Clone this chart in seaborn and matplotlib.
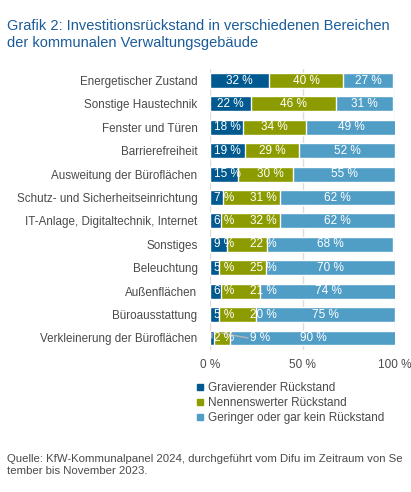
import numpy as np
import pandas as pd
import matplotlib
matplotlib.use("Agg")
import matplotlib.pyplot as plt
import seaborn as sns
from matplotlib.lines import Line2D

categories = [
    "Energetischer Zustand",
    "Sonstige Haustechnik",
    "Fenster und Türen",
    "Barrierefreiheit",
    "Ausweitung der Büroflächen",
    "Schutz- und Sicherheitseinrichtung",
    "IT-Anlage, Digitaltechnik, Internet",
    "Sonstiges",
    "Beleuchtung",
    "Außenflächen",
    "Büroausstattung",
    "Verkleinerung der Büroflächen",
]
gravierend = [32, 22, 18, 19, 15, 7, 6, 9, 5, 6, 5, 2]
nennenswert = [40, 46, 34, 29, 30, 31, 32, 22, 25, 21, 20, 9]
gering = [27, 31, 49, 52, 55, 62, 62, 68, 70, 74, 75, 90]
series_names = ["Gravierender Rückstand", "Nennenswerter Rückstand",
                "Geringer oder gar kein Rückstand"]
x_ticks = [0, 50, 100]
x_ticklabels = ["0 %", "50 %", "100 %"]
title = ("Grafik 2: Investitionsrückstand in verschiedenen Bereichen\n"
         "der kommunalen Verwaltungsgebäude")
source = ("Quelle: KfW-Kommunalpanel 2024, durchgeführt vom Difu im Zeitraum von Se\n"
          "tember bis November 2023.")

colors = ["#00598f", "#8c9c00", "#509dc6"]
text_grey = "#4a4a4a"

sns.set_theme(style="white")
plt.rcParams["font.family"] = ["Liberation Sans", "DejaVu Sans"]

W, H = 411, 492
fig = plt.figure(figsize=(W / 100, H / 100), dpi=100)
ax = fig.add_axes([210 / W, 1 - 349.7 / H, 185 / W, (349.7 - 68.8) / H])

df = pd.DataFrame({"Bereich": categories, "g": gravierend,
                   "n": nennenswert, "k": gering})
df["s1"] = df["g"]
df["s2"] = df["g"] + df["n"]
df["s3"] = df["s2"] + df["k"]

for col, c in [("s3", colors[2]), ("s2", colors[1]), ("s1", colors[0])]:
    sns.barplot(data=df, x=col, y="Bereich", color=c, orient="h", width=0.64,
                edgecolor="white", linewidth=1.0, saturation=1, ax=ax,
                errorbar=None, zorder=2)

ax.set_xlim(0, 100)
ax.set_ylim(len(categories) - 0.5, -0.5)
ax.set_xlabel("")
ax.set_ylabel("")
ax.set_xticks(x_ticks)
ax.set_xticklabels(x_ticklabels, fontsize=8.5, color=text_grey)
ax.tick_params(axis="y", labelsize=8.4, labelcolor=text_grey, left=False, pad=3)
ax.tick_params(axis="x", bottom=False, pad=0.5)
for s in ax.spines.values():
    s.set_visible(False)
ax.set_axisbelow(True)
for xv in x_ticks:
    ax.axvline(xv, color="#dcdcdc", lw=1, zorder=0)

# segment labels with simple overlap avoidance
fig.canvas.draw()
r = fig.canvas.get_renderer()
tr = ax.transData
inv = tr.inverted()
left_px = tr.transform((0, 0))[0]
pad = 8
for i in range(len(categories)):
    vals = [gravierend[i], nennenswert[i], gering[i]]
    starts = [0, gravierend[i], gravierend[i] + nennenswert[i]]
    prev_right = None
    for j in range(3):
        c_data = starts[j] + vals[j] / 2
        t = ax.text(c_data, i, f"{vals[j]} %", ha="center", va="center",
                    color="white", fontsize=8.5, zorder=5)
        w = t.get_window_extent(r).width
        cx = tr.transform((c_data, i))[0]
        if prev_right is None:
            cx_new = max(cx, left_px + w / 2 + 4)
        else:
            cx_new = max(cx, prev_right + w / 2 + pad)
        seg_end_px = tr.transform((starts[j] + vals[j], i))[0]
        new_x = inv.transform((cx_new, 0))[0]
        t.set_x(new_x)
        if j < 2 and cx_new - w / 2 > seg_end_px:
            lx0 = c_data
            lx1 = inv.transform((cx_new - w / 2 - 2, 0))[0]
            ax.plot([lx0, lx1], [i - 0.2, i], color="#b5b5b5", lw=1, zorder=4)
        prev_right = cx_new + w / 2 + pad

fig.text(7 / W, 1 - 19 / H, title, ha="left", va="top", fontsize=10.5,
         color="#1a5c9a", linespacing=1.3)

handles = [Line2D([], [], marker="s", linestyle="", color=c, markersize=4)
           for c in colors]
fig.legend(handles, series_names, loc="upper left",
           bbox_to_anchor=(196 / W, 1 - 382 / H), frameon=False, fontsize=8.5,
           handlelength=0.6, handletextpad=0.4, labelspacing=0.25,
           borderpad=0, borderaxespad=0, labelcolor=text_grey)

fig.text(7 / W, 1 - 454 / H, source, ha="left", va="top", fontsize=8.2,
         color=text_grey, linespacing=1.3)

fig.savefig("out.png", dpi=100)
